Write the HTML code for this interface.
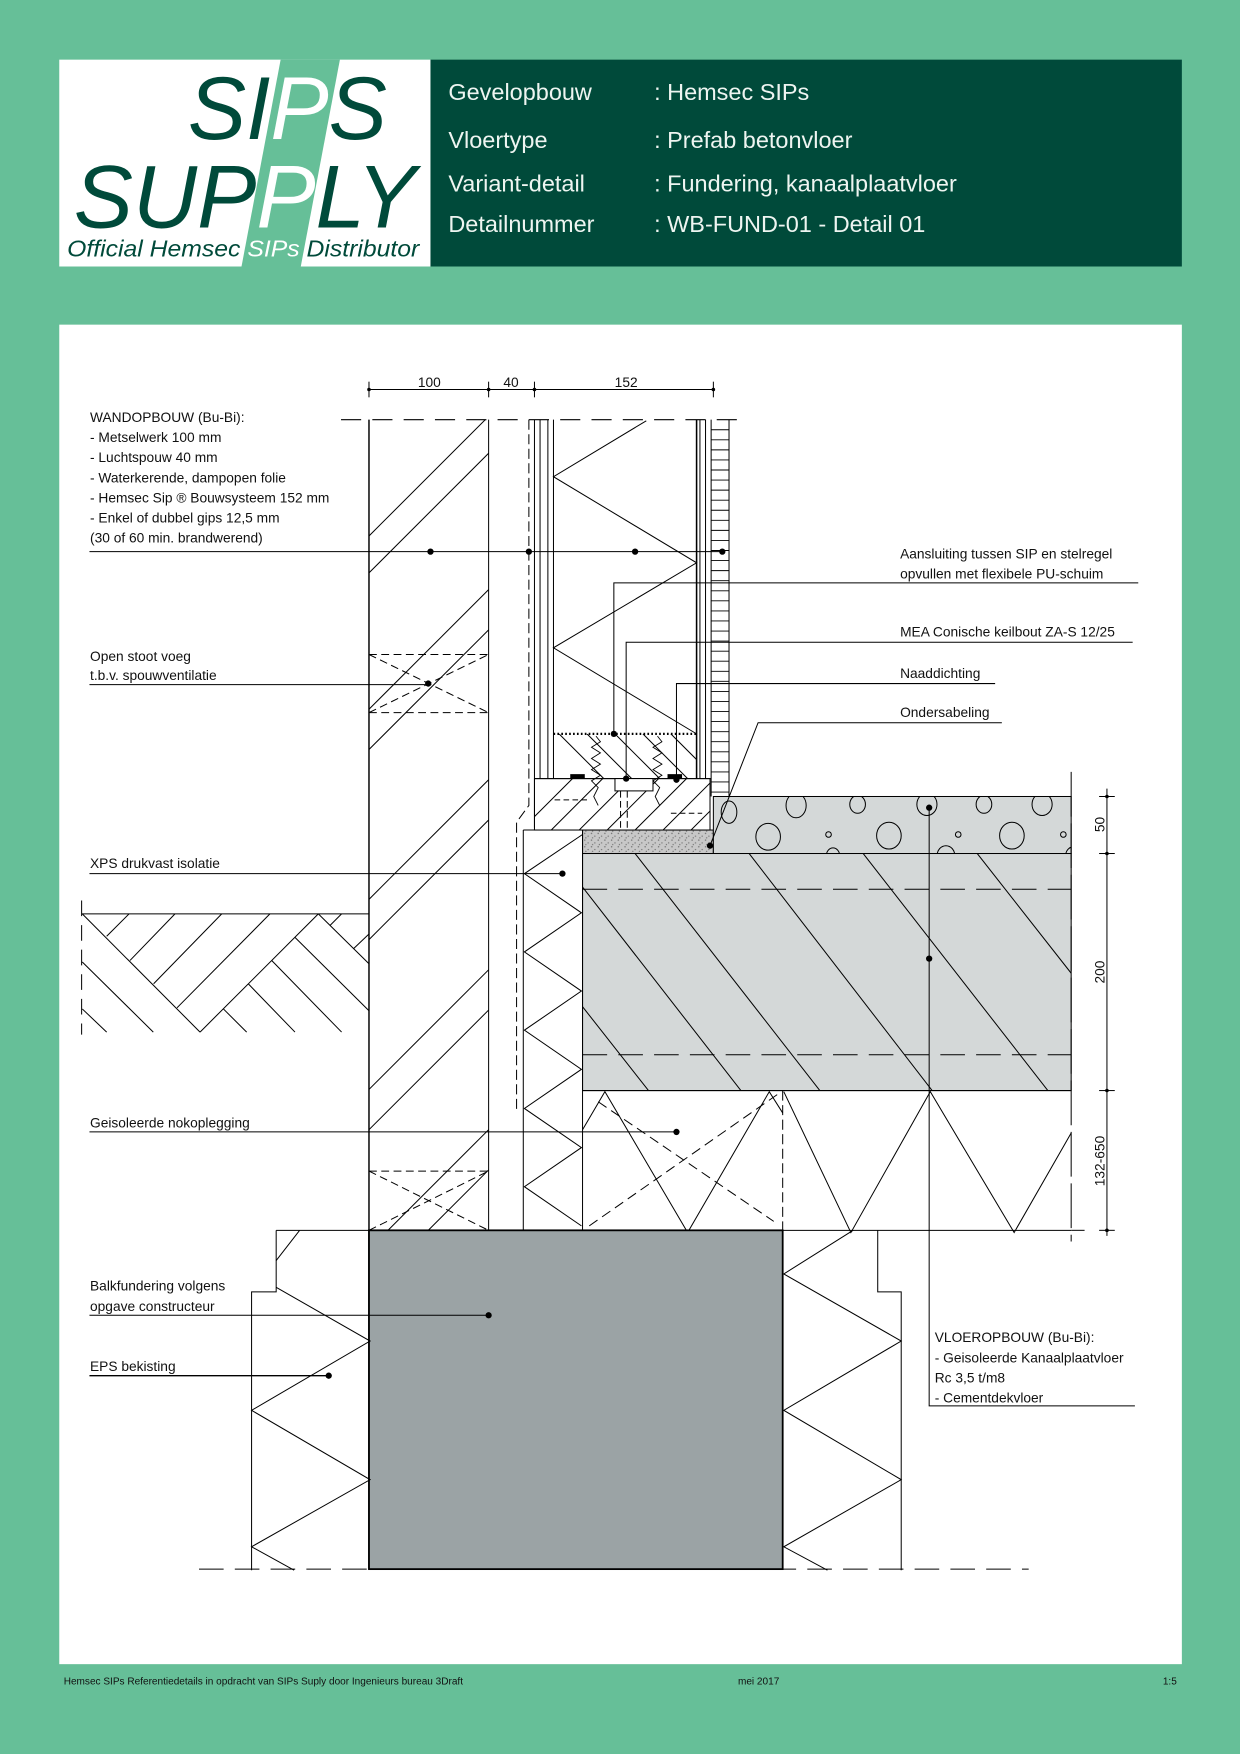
<!DOCTYPE html>
<html><head><meta charset="utf-8">
<style>
html,body{margin:0;padding:0;background:#66bf98;}
svg{display:block;}
text{font-family:"Liberation Sans",Arial,sans-serif;}
</style></head>
<body>
<svg width="1240" height="1754" viewBox="0 0 1109 1568" xmlns="http://www.w3.org/2000/svg">
<defs>
<clipPath id="cBrick"><rect x="330" y="375" width="107" height="725"/></clipPath>
<clipPath id="cSole"><rect x="495" y="656" width="128" height="40"/></clipPath>
<clipPath id="cPlate"><rect x="478" y="696" width="157" height="46"/></clipPath>
<clipPath id="cSlab"><rect x="521" y="763" width="437" height="212"/></clipPath>
<clipPath id="cScreed"><rect x="638" y="712" width="320" height="51"/></clipPath>
<pattern id="spk" width="6" height="6" patternUnits="userSpaceOnUse"><rect width="6" height="6" fill="#c8c8c8"/><circle cx="1" cy="1" r="0.6" fill="#666"/><circle cx="4" cy="3.5" r="0.6" fill="#777"/><circle cx="2" cy="5" r="0.5" fill="#555"/></pattern>
</defs>
<rect width="1109" height="1568" fill="#66bf98"/>
<!-- header -->
<rect x="53" y="53" width="332" height="185" fill="#fff"/>
<polygon points="251,53 304,53 269,238 216,238" fill="#66bf98"/>
<rect x="385" y="53" width="672" height="185" fill="#004a3a"/>
<g font-style="italic" fill="#004a3a">
<text x="168" y="124" font-size="80" textLength="178" lengthAdjust="spacingAndGlyphs">SI<tspan fill="#fff">P</tspan>S</text>
<text x="66" y="203" font-size="80" textLength="306" lengthAdjust="spacingAndGlyphs">SUP<tspan fill="#fff">P</tspan>LY</text>
<text x="60" y="229" font-size="21" textLength="315" lengthAdjust="spacingAndGlyphs">Official Hemsec <tspan fill="#fff">SIPs</tspan> Distributor</text>
</g>
<g fill="#eef5f1" font-size="21">
<text x="401" y="89">Gevelopbouw</text><text x="585" y="89">: Hemsec SIPs</text>
<text x="401" y="132">Vloertype</text><text x="585" y="132">: Prefab betonvloer</text>
<text x="401" y="171">Variant-detail</text><text x="585" y="171">: Fundering, kanaalplaatvloer</text>
<text x="401" y="207">Detailnummer</text><text x="585" y="207">: WB-FUND-01 - Detail 01</text>
</g>
<!-- drawing sheet -->
<rect x="53" y="290" width="1004" height="1198" fill="#fff"/>
<g font-size="9" fill="#111">
<text x="57" y="1506">Hemsec SIPs Referentiedetails in opdracht van SIPs Suply door Ingenieurs bureau 3Draft</text>
<text x="660" y="1506">mei 2017</text>
<text x="1040" y="1506">1:5</text>
</g>

<g stroke="#000" stroke-width="0.9" fill="none">
<!-- top dimension -->
<line x1="330" y1="348" x2="638" y2="348"/>
<line x1="330" y1="341" x2="330" y2="355"/><line x1="437" y1="341" x2="437" y2="355"/>
<line x1="478" y1="341" x2="478" y2="355"/><line x1="638" y1="341" x2="638" y2="355"/>
<line x1="305" y1="375" x2="660" y2="375" stroke-dasharray="18,10"/>

<!-- ground hatch -->
<line x1="73" y1="817" x2="330" y2="817"/>
<line x1="73" y1="805" x2="73" y2="925" stroke-dasharray="14,8"/>
<line x1="73.6" y1="817" x2="178.9" y2="922.7"/><line x1="178.9" y1="922.7" x2="284.7" y2="817"/>
<line x1="95.4" y1="837" x2="115.4" y2="817"/><line x1="116.3" y1="858.6" x2="156.5" y2="817"/>
<line x1="137.4" y1="879.5" x2="198.3" y2="817"/><line x1="158.3" y1="901" x2="241.4" y2="817"/>
<line x1="284.7" y1="817" x2="330" y2="861.6"/><line x1="263.8" y1="838" x2="330" y2="903.6"/>
<line x1="242.9" y1="858.6" x2="305.5" y2="922.7"/><line x1="222" y1="879.5" x2="263.8" y2="922.7"/>
<line x1="199.7" y1="901.9" x2="220.6" y2="922.7"/>
<line x1="295" y1="827.5" x2="305.5" y2="817"/><line x1="316" y1="848.3" x2="330" y2="835"/>
<line x1="73.6" y1="860" x2="137.1" y2="922.7"/><line x1="73.6" y1="902" x2="95.4" y2="922.7"/>

<!-- brick wall -->
<line x1="330" y1="375" x2="330" y2="1403" stroke-width="1.3"/>
<line x1="437" y1="375" x2="437" y2="1100"/>
<g clip-path="url(#cBrick)">
<line x1="437" y1="372" x2="330" y2="479"/><line x1="437" y1="405" x2="330" y2="512"/>
<line x1="437" y1="527" x2="330" y2="634"/><line x1="437" y1="563" x2="330" y2="670"/>
<line x1="437" y1="697" x2="330" y2="804"/><line x1="437" y1="733" x2="330" y2="840"/>
<line x1="437" y1="867" x2="330" y2="974"/><line x1="437" y1="903" x2="330" y2="1010"/>
<line x1="437" y1="1010" x2="330" y2="1117"/><line x1="437" y1="1046" x2="330" y2="1153"/>
</g>
<g stroke-dasharray="7,4">
<line x1="330" y1="585" x2="437" y2="585"/><line x1="330" y1="637" x2="437" y2="637"/>
<line x1="330" y1="585" x2="437" y2="637"/><line x1="330" y1="637" x2="437" y2="585"/>
<line x1="330" y1="1047" x2="437" y2="1047"/>
<line x1="330" y1="1047" x2="437" y2="1100"/><line x1="330" y1="1100" x2="437" y2="1047"/>
</g>

<!-- cavity foil -->
<polyline points="473,375 473,720 462,735 462,995" stroke-dasharray="9,4"/>

<!-- SIP -->
<line x1="478" y1="375" x2="478" y2="740"/><line x1="483" y1="375" x2="483" y2="696"/>
<line x1="490" y1="375" x2="490" y2="696"/><line x1="495" y1="375" x2="495" y2="696"/>
<line x1="623" y1="375" x2="623" y2="696" stroke-width="1.4"/><line x1="626" y1="375" x2="626" y2="696"/>
<line x1="631" y1="375" x2="631" y2="696"/><line x1="636" y1="375" x2="636" y2="712"/>
<line x1="652" y1="375" x2="652" y2="712"/>
<polyline points="578,376 495,426 623,503 495,579 623,656"/>
<g stroke-width="0.8">
<line x1="636" y1="384" x2="652" y2="384"/><line x1="636" y1="393" x2="652" y2="393"/><line x1="636" y1="402" x2="652" y2="402"/><line x1="636" y1="411" x2="652" y2="411"/><line x1="636" y1="420" x2="652" y2="420"/><line x1="636" y1="429" x2="652" y2="429"/><line x1="636" y1="438" x2="652" y2="438"/><line x1="636" y1="447" x2="652" y2="447"/><line x1="636" y1="456" x2="652" y2="456"/><line x1="636" y1="465" x2="652" y2="465"/><line x1="636" y1="474" x2="652" y2="474"/><line x1="636" y1="483" x2="652" y2="483"/><line x1="636" y1="492" x2="652" y2="492"/><line x1="636" y1="501" x2="652" y2="501"/><line x1="636" y1="510" x2="652" y2="510"/><line x1="636" y1="519" x2="652" y2="519"/><line x1="636" y1="528" x2="652" y2="528"/><line x1="636" y1="537" x2="652" y2="537"/><line x1="636" y1="546" x2="652" y2="546"/><line x1="636" y1="555" x2="652" y2="555"/><line x1="636" y1="564" x2="652" y2="564"/><line x1="636" y1="573" x2="652" y2="573"/><line x1="636" y1="582" x2="652" y2="582"/><line x1="636" y1="591" x2="652" y2="591"/><line x1="636" y1="600" x2="652" y2="600"/><line x1="636" y1="609" x2="652" y2="609"/><line x1="636" y1="618" x2="652" y2="618"/><line x1="636" y1="627" x2="652" y2="627"/><line x1="636" y1="636" x2="652" y2="636"/><line x1="636" y1="645" x2="652" y2="645"/><line x1="636" y1="654" x2="652" y2="654"/><line x1="636" y1="663" x2="652" y2="663"/><line x1="636" y1="672" x2="652" y2="672"/><line x1="636" y1="681" x2="652" y2="681"/><line x1="636" y1="690" x2="652" y2="690"/><line x1="636" y1="699" x2="652" y2="699"/><line x1="636" y1="708" x2="652" y2="708"/>
</g>
<line x1="495" y1="656" x2="623" y2="656" stroke-width="2" stroke-dasharray="1.5,2"/>
<g clip-path="url(#cSole)">
<line x1="500" y1="656" x2="540" y2="696"/><line x1="525" y1="656" x2="565" y2="696"/><line x1="550" y1="656" x2="590" y2="696"/><line x1="575" y1="656" x2="615" y2="696"/><line x1="600" y1="656" x2="640" y2="696"/>
</g>
<line x1="478" y1="696" x2="636" y2="696"/>
<rect x="478" y="696" width="157" height="46"/>
<g clip-path="url(#cPlate)">
<line x1="478" y1="730" x2="512" y2="696"/><line x1="480" y1="755" x2="539" y2="696"/><line x1="505" y1="755" x2="564" y2="696"/><line x1="530" y1="755" x2="589" y2="696"/><line x1="555" y1="755" x2="614" y2="696"/><line x1="580" y1="755" x2="639" y2="696"/><line x1="605" y1="755" x2="664" y2="696"/>
</g>
<polyline points="533,658 537,663 529,668 537,673 529,678 537,683 529,688 537,693 529,698 535,704 531,712 535,720" stroke-width="0.8"/>
<polyline points="588,658 592,663 584,668 592,673 584,678 592,683 584,688 592,693 584,698 590,704 586,712 590,720" stroke-width="0.8"/>
<rect x="550" y="696" width="34" height="11" fill="#fff"/>
<line x1="555" y1="707" x2="555" y2="868" stroke-dasharray="6,3"/><line x1="561" y1="707" x2="561" y2="868" stroke-dasharray="6,3"/>
<line x1="555" y1="868" x2="561" y2="868"/>
<line x1="496" y1="715" x2="525" y2="715" stroke-dasharray="5,3"/><line x1="600" y1="727" x2="628" y2="727" stroke-dasharray="5,3"/>

<!-- grout -->
<rect x="521" y="742" width="117" height="21" fill="url(#spk)"/>
<!-- screed -->
<rect x="638" y="712" width="320" height="51" fill="#d4d8d8"/>
<g clip-path="url(#cScreed)" stroke-width="0.9">
<ellipse cx="652" cy="726" rx="7" ry="10"/><ellipse cx="712" cy="720" rx="9" ry="11"/><ellipse cx="767" cy="719" rx="7" ry="8"/><ellipse cx="829" cy="719" rx="9" ry="10"/><ellipse cx="880" cy="719" rx="7" ry="8"/><ellipse cx="932" cy="719" rx="9" ry="10"/>
<ellipse cx="687" cy="748" rx="11" ry="12"/><ellipse cx="795" cy="747" rx="11" ry="12"/><ellipse cx="905" cy="747" rx="11" ry="12"/>
<circle cx="741" cy="746" r="2.5"/><circle cx="857" cy="746" r="2.5"/><circle cx="951" cy="746" r="2.5"/>
<ellipse cx="745" cy="765" rx="6" ry="7"/><ellipse cx="846" cy="765" rx="8" ry="9"/><ellipse cx="960" cy="765" rx="7" ry="8"/>
</g>
<line x1="638" y1="712" x2="958" y2="712"/>
<!-- slab -->
<rect x="521" y="763" width="437" height="212" fill="#d4d8d8"/>
<g clip-path="url(#cSlab)">
<line x1="521" y1="793" x2="700" y2="1023"/><line x1="568" y1="763" x2="780" y2="1035"/><line x1="670" y1="763" x2="880" y2="1035"/><line x1="772" y1="763" x2="980" y2="1030"/><line x1="874" y1="763" x2="1060" y2="1000"/><line x1="521" y1="900" x2="580" y2="975"/>
</g>
<line x1="521" y1="763" x2="958" y2="763"/>
<line x1="521" y1="795" x2="958" y2="795" stroke-dasharray="22,10"/>
<line x1="521" y1="943" x2="958" y2="943" stroke-dasharray="22,10"/>
<line x1="521" y1="975" x2="958" y2="975"/>
<line x1="521" y1="742" x2="521" y2="1100"/>
<line x1="958" y1="690" x2="958" y2="1110" stroke-dasharray="40,6"/>

<!-- XPS -->
<line x1="468" y1="742" x2="521" y2="742"/>
<line x1="468" y1="742" x2="468" y2="1100"/>
<polyline points="521,746 469,781 520,816 469,851 520,886 469,921 520,956 469,991 520,1026 469,1061 520,1096"/>

<!-- nokoplegging -->
<polyline points="521,1010 541,976 615,1102 688,976 700,995"/>
<line x1="527" y1="1096" x2="696" y2="978" stroke-dasharray="9,5"/>
<line x1="535" y1="985" x2="692" y2="1092" stroke-dasharray="9,5"/>
<line x1="700" y1="975" x2="700" y2="1100" stroke-dasharray="9,4"/>
<polyline points="701,976 761,1102 832,976 907,1102 958,1013"/>

<!-- foundation -->
<line x1="247" y1="1100" x2="958" y2="1100"/>
<rect x="330" y="1100" width="370" height="303" fill="#9ba3a5" stroke-width="1.6"/>
<polyline points="247,1100 247,1155 225,1155 225,1404"/>
<polyline points="268,1100 247,1127"/>
<polyline points="247,1151 331,1199 225,1261 331,1323 225,1383 263,1404"/>
<polyline points="763,1100 701,1139 806,1199 701,1261 806,1323 701,1383 740,1404"/>
<polyline points="785,1100 785,1155 806,1155 806,1404"/>
<line x1="178" y1="1403" x2="920" y2="1403" stroke-dasharray="22,10"/>

<!-- right dims -->
<line x1="990" y1="705" x2="990" y2="1105"/>
<line x1="983" y1="712" x2="997" y2="712"/><line x1="983" y1="763" x2="997" y2="763"/>
<line x1="983" y1="975" x2="997" y2="975"/><line x1="983" y1="1100" x2="997" y2="1100"/>
<line x1="958" y1="1100" x2="970" y2="1100"/>

<!-- leaders -->
<line x1="80" y1="493" x2="646" y2="493"/>
<polyline points="1018,521 549,521 549,656"/>
<polyline points="1013,574 560,574 560,696"/>
<polyline points="890,611 605,611 605,697"/>
<polyline points="896,646 678,646 635,756"/>
<line x1="80" y1="612" x2="383" y2="612"/>
<line x1="80" y1="781" x2="503" y2="781"/>
<line x1="80" y1="1012" x2="605" y2="1012"/>
<line x1="80" y1="1176" x2="437" y2="1176"/>
<line x1="80" y1="1230" x2="294" y2="1230" stroke-width="1.3"/>
<polyline points="831,722 831,1257 1015,1257"/>
</g>
<!-- markers -->
<g fill="#000">
<rect x="510" y="692" width="13" height="4"/><rect x="597" y="692" width="13" height="4"/>
<circle cx="330" cy="348" r="1.6"/><circle cx="437" cy="348" r="1.6"/><circle cx="478" cy="348" r="1.6"/><circle cx="638" cy="348" r="1.6"/>
<circle cx="990" cy="712" r="1.6"/><circle cx="990" cy="763" r="1.6"/><circle cx="990" cy="975" r="1.6"/><circle cx="990" cy="1100" r="1.6"/>
<circle cx="385" cy="493" r="2.8"/><circle cx="473" cy="493" r="2.8"/><circle cx="568" cy="493" r="2.8"/><circle cx="646" cy="493" r="2.8"/>
<circle cx="549" cy="656" r="2.8"/><circle cx="560" cy="696" r="2.8"/><circle cx="605" cy="697" r="2.8"/><circle cx="635" cy="756" r="2.8"/>
<circle cx="383" cy="611" r="2.8"/><circle cx="503" cy="781" r="2.8"/><circle cx="605" cy="1012" r="2.8"/>
<circle cx="437" cy="1176" r="2.8"/><circle cx="294" cy="1230" r="2.8"/>
<circle cx="831" cy="722" r="2.8"/><circle cx="831" cy="857" r="2.8"/>
</g>
<!-- labels -->
<g font-size="12.3" fill="#111">
<text x="384" y="346" text-anchor="middle">100</text>
<text x="457" y="346" text-anchor="middle">40</text>
<text x="560" y="346" text-anchor="middle">152</text>
<text x="80.5" y="377">WANDOPBOUW (Bu-Bi):</text>
<text x="80.5" y="395">- Metselwerk 100 mm</text>
<text x="80.5" y="413">- Luchtspouw 40 mm</text>
<text x="80.5" y="431">- Waterkerende, dampopen folie</text>
<text x="80.5" y="449">- Hemsec Sip ® Bouwsysteem 152 mm</text>
<text x="80.5" y="467">- Enkel of dubbel gips 12,5 mm</text>
<text x="80.5" y="485">  (30 of 60 min. brandwerend)</text>
<text x="80.5" y="591">Open stoot voeg</text>
<text x="80.5" y="608">t.b.v. spouwventilatie</text>
<text x="80.5" y="776">XPS drukvast isolatie</text>
<text x="80.5" y="1008">Geisoleerde nokoplegging</text>
<text x="80.5" y="1154">Balkfundering volgens</text>
<text x="80.5" y="1172">opgave constructeur</text>
<text x="80.5" y="1226">EPS bekisting</text>
<text x="805" y="499">Aansluiting tussen SIP en stelregel</text>
<text x="805" y="517">opvullen met flexibele PU-schuim</text>
<text x="805" y="569">MEA Conische keilbout ZA-S 12/25</text>
<text x="805" y="606">Naaddichting</text>
<text x="805" y="641">Ondersabeling</text>
<text x="836" y="1200">VLOEROPBOUW (Bu-Bi):</text>
<text x="836" y="1218">- Geisoleerde Kanaalplaatvloer</text>
<text x="836" y="1236">  Rc 3,5 t/m8</text>
<text x="836" y="1254">- Cementdekvloer</text>
<text transform="translate(988,737) rotate(-90)" text-anchor="middle">50</text>
<text transform="translate(988,869) rotate(-90)" text-anchor="middle">200</text>
<text transform="translate(988,1038) rotate(-90)" text-anchor="middle">132-650</text>
</g>
</svg>
</body></html>
